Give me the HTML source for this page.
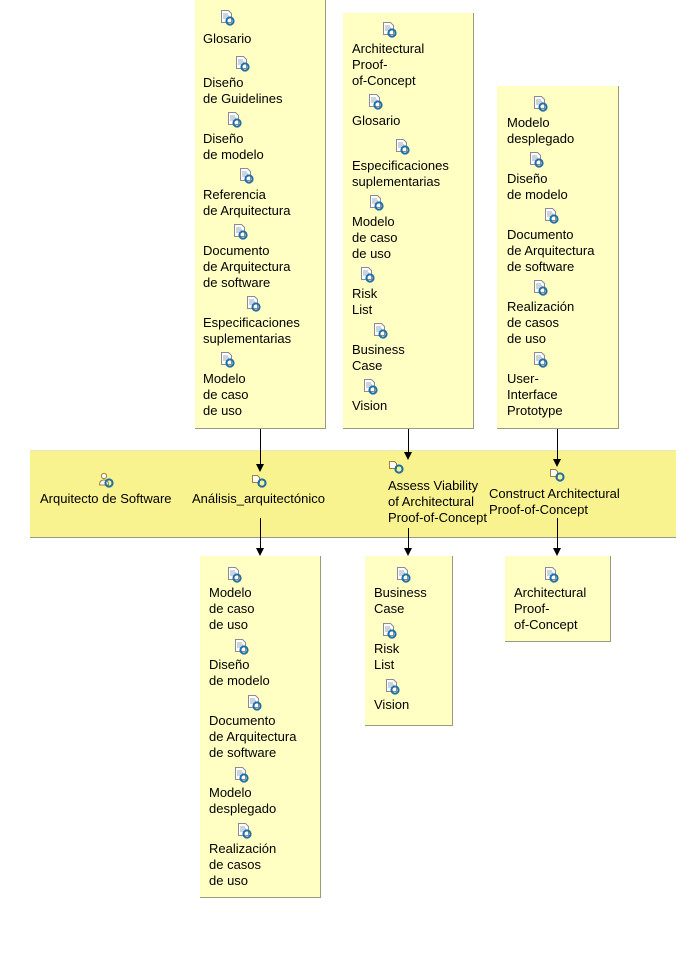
<!DOCTYPE html>
<html><head><meta charset="utf-8"><style>
body{margin:0;width:696px;height:957px;background:#fff;position:relative;overflow:hidden;font-family:"Liberation Sans",Arial,sans-serif;font-size:13px;color:#000}
.b{position:absolute;background:#ffffc4;border-right:1px solid #9a9a80;border-bottom:1px solid #9a9a80;box-sizing:border-box}
.band{position:absolute;left:30px;top:450px;width:646px;height:86px;background:#f9f38f;border-bottom:1px solid #999;border-top:1px solid #e8e8c0}
.t{position:absolute;line-height:16px;white-space:nowrap}
.i{position:absolute;width:16px;height:16px}
.l{position:absolute;width:1px;background:#000}
.a{position:absolute;width:0;height:0;border-left:4px solid transparent;border-right:4px solid transparent;border-top:8px solid #000}
</style></head><body>
<svg width="0" height="0" style="position:absolute"><defs>
<g id="doc"><path d="M2.5 .5h7l3 3v9h-10z" fill="#fff" stroke="#8a8a9a"/><path d="M4 4h5M4 6h6M4 8h6" stroke="#9ab"/><circle cx="11" cy="11" r="3.6" fill="none" stroke="#1f6fa8" stroke-width="2"/><path d="M7 10l2 1-2 2zM15 12l-2-1 2-2z" fill="#1f6fa8"/></g>
<g id="task"><path d="M1.5 3.5h5l2 2v5h-7z" fill="#fff" stroke="#a08040"/><circle cx="11" cy="11" r="3.6" fill="none" stroke="#1f6fa8" stroke-width="2"/><path d="M7 10l2 1-2 2zM15 12l-2-1 2-2z" fill="#1f6fa8"/></g>
<g id="role"><circle cx="6" cy="4" r="2.6" fill="#fff" stroke="#a08040"/><path d="M1.5 13c0-4 2-5 4.5-5s4.5 1 4.5 5z" fill="#fff" stroke="#a08040"/><circle cx="11" cy="11" r="3.6" fill="none" stroke="#1f6fa8" stroke-width="2"/><path d="M7 10l2 1-2 2zM15 12l-2-1 2-2z" fill="#1f6fa8"/></g>
</defs></svg>

<div class="b" style="left:195px;top:0;width:131px;height:429px"></div>
<div class="b" style="left:343px;top:13px;width:131px;height:416px"></div>
<div class="b" style="left:497px;top:86px;width:122px;height:343px"></div>
<div class="band"></div>
<div class="b" style="left:200px;top:556px;width:121px;height:342px"></div>
<div class="b" style="left:365px;top:556px;width:88px;height:170px"></div>
<div class="b" style="left:505px;top:556px;width:106px;height:86px"></div>

<div class="l" style="left:260px;top:429px;height:36px"></div><div class="a" style="left:256px;top:464px"></div>
<div class="l" style="left:260px;top:518px;height:30px"></div><div class="a" style="left:256px;top:548px"></div>
<div class="l" style="left:408px;top:429px;height:24px"></div><div class="a" style="left:404px;top:452px"></div>
<div class="l" style="left:408px;top:528px;height:20px"></div><div class="a" style="left:404px;top:548px"></div>
<div class="l" style="left:557px;top:429px;height:31px"></div><div class="a" style="left:553px;top:459px"></div>
<div class="l" style="left:557px;top:518px;height:30px"></div><div class="a" style="left:553px;top:548px"></div>

<svg class="i" style="left:219px;top:10px"><use href="#doc"/></svg><div class="t" style="left:203px;top:31px">Glosario</div>
<svg class="i" style="left:234px;top:56px"><use href="#doc"/></svg><div class="t" style="left:203px;top:75px">Diseño<br>de Guidelines</div>
<svg class="i" style="left:226px;top:112px"><use href="#doc"/></svg><div class="t" style="left:203px;top:131px">Diseño<br>de modelo</div>
<svg class="i" style="left:238px;top:168px"><use href="#doc"/></svg><div class="t" style="left:203px;top:187px">Referencia<br>de Arquitectura</div>
<svg class="i" style="left:232px;top:224px"><use href="#doc"/></svg><div class="t" style="left:203px;top:243px">Documento<br>de Arquitectura<br>de software</div>
<svg class="i" style="left:245px;top:296px"><use href="#doc"/></svg><div class="t" style="left:203px;top:315px">Especificaciones<br>suplementarias</div>
<svg class="i" style="left:219px;top:352px"><use href="#doc"/></svg><div class="t" style="left:203px;top:371px">Modelo<br>de caso<br>de uso</div>

<svg class="i" style="left:381px;top:22px"><use href="#doc"/></svg><div class="t" style="left:352px;top:41px">Architectural<br>Proof-<br>of-Concept</div>
<svg class="i" style="left:367px;top:94px"><use href="#doc"/></svg><div class="t" style="left:352px;top:113px">Glosario</div>
<svg class="i" style="left:394px;top:139px"><use href="#doc"/></svg><div class="t" style="left:352px;top:158px">Especificaciones<br>suplementarias</div>
<svg class="i" style="left:368px;top:195px"><use href="#doc"/></svg><div class="t" style="left:352px;top:214px">Modelo<br>de caso<br>de uso</div>
<svg class="i" style="left:359px;top:267px"><use href="#doc"/></svg><div class="t" style="left:352px;top:286px">Risk<br>List</div>
<svg class="i" style="left:372px;top:323px"><use href="#doc"/></svg><div class="t" style="left:352px;top:342px">Business<br>Case</div>
<svg class="i" style="left:362px;top:379px"><use href="#doc"/></svg><div class="t" style="left:352px;top:398px">Vision</div>

<svg class="i" style="left:532px;top:96px"><use href="#doc"/></svg><div class="t" style="left:507px;top:115px">Modelo<br>desplegado</div>
<svg class="i" style="left:528px;top:152px"><use href="#doc"/></svg><div class="t" style="left:507px;top:171px">Diseño<br>de modelo</div>
<svg class="i" style="left:543px;top:208px"><use href="#doc"/></svg><div class="t" style="left:507px;top:227px">Documento<br>de Arquitectura<br>de software</div>
<svg class="i" style="left:532px;top:280px"><use href="#doc"/></svg><div class="t" style="left:507px;top:299px">Realización<br>de casos<br>de uso</div>
<svg class="i" style="left:532px;top:352px"><use href="#doc"/></svg><div class="t" style="left:507px;top:371px">User-<br>Interface<br>Prototype</div>

<svg class="i" style="left:98px;top:472px"><use href="#role"/></svg><div class="t" style="left:40px;top:491px">Arquitecto de Software</div>
<svg class="i" style="left:251px;top:472px"><use href="#task"/></svg><div class="t" style="left:192px;top:491px">Análisis_arquitectónico</div>
<svg class="i" style="left:388px;top:458px"><use href="#task"/></svg><div class="t" style="left:388px;top:478px">Assess Viability<br>of Architectural<br>Proof-of-Concept</div>
<svg class="i" style="left:549px;top:466px"><use href="#task"/></svg><div class="t" style="left:489px;top:486px">Construct Architectural<br>Proof-of-Concept</div>

<svg class="i" style="left:226px;top:567px"><use href="#doc"/></svg><div class="t" style="left:209px;top:585px">Modelo<br>de caso<br>de uso</div>
<svg class="i" style="left:233px;top:639px"><use href="#doc"/></svg><div class="t" style="left:209px;top:657px">Diseño<br>de modelo</div>
<svg class="i" style="left:246px;top:695px"><use href="#doc"/></svg><div class="t" style="left:209px;top:713px">Documento<br>de Arquitectura<br>de software</div>
<svg class="i" style="left:233px;top:767px"><use href="#doc"/></svg><div class="t" style="left:209px;top:785px">Modelo<br>desplegado</div>
<svg class="i" style="left:236px;top:823px"><use href="#doc"/></svg><div class="t" style="left:209px;top:841px">Realización<br>de casos<br>de uso</div>

<svg class="i" style="left:395px;top:567px"><use href="#doc"/></svg><div class="t" style="left:374px;top:585px">Business<br>Case</div>
<svg class="i" style="left:381px;top:623px"><use href="#doc"/></svg><div class="t" style="left:374px;top:641px">Risk<br>List</div>
<svg class="i" style="left:384px;top:679px"><use href="#doc"/></svg><div class="t" style="left:374px;top:697px">Vision</div>

<svg class="i" style="left:543px;top:567px"><use href="#doc"/></svg><div class="t" style="left:514px;top:585px">Architectural<br>Proof-<br>of-Concept</div>
</body></html>
